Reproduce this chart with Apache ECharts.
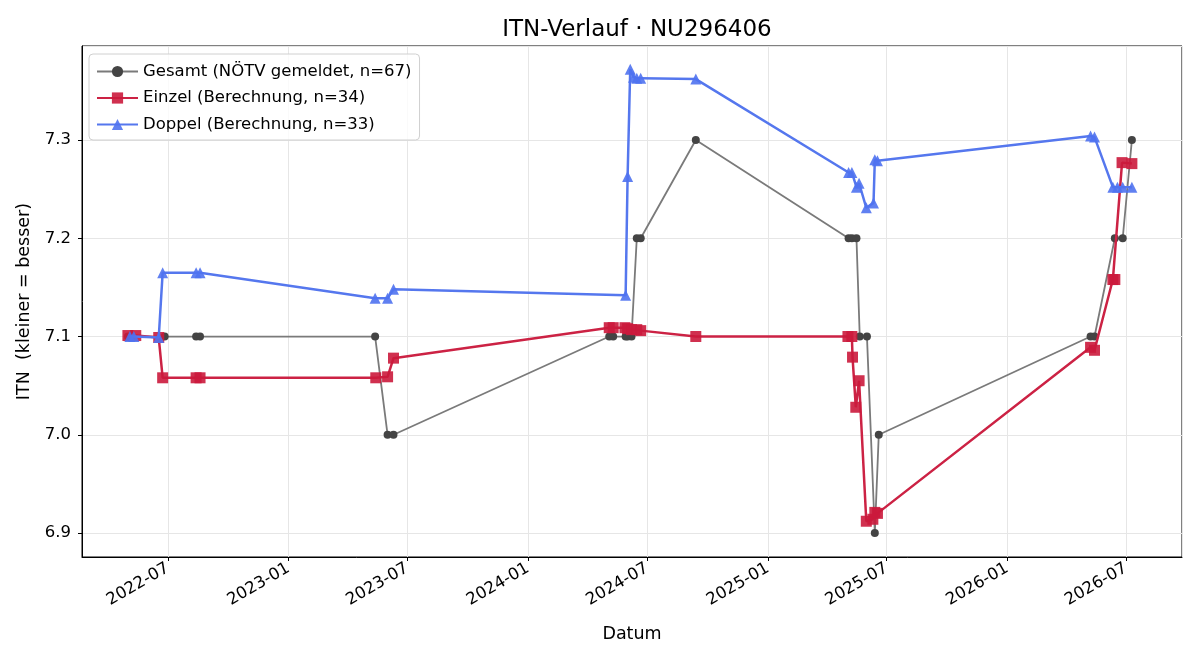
<!DOCTYPE html>
<html>
<head>
<meta charset="utf-8">
<script src="https://cdn.jsdelivr.net/npm/echarts@6/dist/echarts.min.js"></script>
<style>
  html, body { margin: 0; padding: 0; background: #fff; }
  #chart { width: 1200px; height: 660px; }
</style>
</head>
<body>
<div id="chart"></div>
<script>
var gesamtDates = ['2022-05-01', '2022-05-06', '2022-06-26', '2022-08-13', '2022-08-19', '2023-05-13', '2023-06-01', '2023-06-10',
  '2024-05-04', '2024-05-10', '2024-05-29', '2024-06-01', '2024-06-07', '2024-06-15', '2024-06-21', '2024-09-13',
  '2025-05-04', '2025-05-09', '2025-05-16', '2025-05-21', '2025-06-01', '2025-06-13', '2025-06-19',
  '2026-05-08', '2026-05-14', '2026-06-14', '2026-06-26', '2026-07-10'];
var gesamtValues = [7.1, 7.1, 7.1, 7.1, 7.1, 7.1, 7.0, 7.0,
  7.1, 7.1, 7.1, 7.1, 7.1, 7.2, 7.2, 7.3,
  7.2, 7.2, 7.2, 7.1, 7.1, 6.9, 7.0,
  7.1, 7.1, 7.2, 7.2, 7.3];

var einzelDates = ['2022-05-01', '2022-05-13', '2022-06-17', '2022-06-23', '2022-08-13', '2022-08-19', '2023-05-14', '2023-06-01', '2023-06-10',
  '2024-05-04', '2024-05-10', '2024-05-28', '2024-06-01', '2024-06-07', '2024-06-15', '2024-06-21', '2024-09-13',
  '2025-05-03', '2025-05-09', '2025-05-10', '2025-05-15', '2025-05-20', '2025-05-31', '2025-06-10', '2025-06-13', '2025-06-17',
  '2026-05-08', '2026-05-14', '2026-06-11', '2026-06-14', '2026-06-25', '2026-07-10'];
var einzelValues = [7.101, 7.101, 7.099, 7.058, 7.058, 7.058, 7.058, 7.059, 7.078,
  7.109, 7.109, 7.109, 7.108, 7.107, 7.107, 7.106, 7.100,
  7.100, 7.100, 7.079, 7.028, 7.055, 6.912, 6.914, 6.921, 6.920,
  7.089, 7.086, 7.158, 7.158, 7.277, 7.276];

var doppelDates = ['2022-05-04', '2022-05-10', '2022-06-17', '2022-06-23', '2022-08-13', '2022-08-19', '2023-05-13', '2023-06-01', '2023-06-10',
  '2024-05-29', '2024-06-01', '2024-06-05', '2024-06-10', '2024-06-15', '2024-06-21', '2024-09-13',
  '2025-05-04', '2025-05-09', '2025-05-16', '2025-05-20', '2025-05-31', '2025-06-11', '2025-06-13', '2025-06-17',
  '2026-05-08', '2026-05-14', '2026-06-11', '2026-06-18', '2026-06-26', '2026-07-10'];
var doppelValues = [7.100, 7.100, 7.099, 7.165, 7.165, 7.165, 7.139, 7.139, 7.148,
  7.142, 7.263, 7.372, 7.364, 7.363, 7.363, 7.362,
  7.267, 7.267, 7.252, 7.256, 7.231, 7.236, 7.280, 7.279,
  7.304, 7.303, 7.252, 7.252, 7.252, 7.252];

var seriesNames = ['Gesamt (NÖTV gemeldet, n=67)', 'Einzel (Berechnung, n=34)', 'Doppel (Berechnung, n=33)'];

var pairs = (dates, values) => dates.map((d, i) => [d, values[i]]);
var font = 'DejaVu Sans';

var chart = echarts.init(document.getElementById('chart'));

var option = {
  animation: false,
  backgroundColor: '#fff',
  textStyle: { fontFamily: font },
  title: {
    text: 'ITN-Verlauf · NU296406',
    left: 632,
    top: 14,
    textAlign: 'center',
    textStyle: { fontFamily: font, fontSize: 23, fontWeight: 'normal', color: '#000' }
  },
  legend: {
    orient: 'vertical',
    left: 89,
    top: 54,
    padding: [9, 8, 7, 7],
    itemWidth: 41,
    itemHeight: 14,
    itemGap: 9.5,
    backgroundColor: 'rgba(255,255,255,0.8)',
    borderColor: '#d0d0d0',
    borderWidth: 1,
    borderRadius: 4,
    textStyle: { fontFamily: font, fontSize: 16.5, color: '#000' },
    data: seriesNames
  },
  grid: {
    left: 82, right: 18, top: 46, bottom: 103,
    show: true, borderColor: '#000', borderWidth: 1
  },
  xAxis: {
    type: 'time',
    min: '2022-02-20',
    max: '2026-09-24 10:00',
    minInterval: 181 * 86400000,
    maxInterval: 184 * 86400000,
    name: 'Datum',
    nameLocation: 'middle',
    nameGap: 68,
    nameTextStyle: { fontFamily: font, fontSize: 17.5, color: '#000' },
    axisLine: { lineStyle: { color: '#000' } },
    axisTick: { show: true, length: 4, lineStyle: { color: '#000' } },
    splitLine: { show: true, lineStyle: { color: '#e6e6e6' } },
    axisLabel: {
      rotate: 30,
      margin: 10,
      fontFamily: font,
      fontSize: 16.5,
      color: '#000',
      showMinLabel: false,
      showMaxLabel: false,
      formatter: function (v) {
        var d = new Date(v);
        if (d.getDate() !== 1 || (d.getMonth() !== 0 && d.getMonth() !== 6)) return '';
        return d.getFullYear() + '-' + (d.getMonth() === 0 ? '01' : '07');
      }
    }
  },
  yAxis: {
    type: 'value',
    min: 6.8756,
    max: 7.3957,
    name: 'ITN  (kleiner = besser)',
    nameLocation: 'middle',
    nameGap: 47,
    nameRotate: 90,
    nameTextStyle: { fontFamily: font, fontSize: 17.5, color: '#000' },
    axisLine: { show: true, lineStyle: { color: '#000' } },
    axisTick: { show: true, length: 4, lineStyle: { color: '#000' } },
    splitLine: { show: true, lineStyle: { color: '#e6e6e6' } },
    axisLabel: {
      fontFamily: font,
      fontSize: 16.5,
      color: '#000',
      margin: 11,
      showMinLabel: false,
      showMaxLabel: false,
      formatter: function (v) {
        return Math.abs(v * 10 - Math.round(v * 10)) < 1e-6 ? v.toFixed(1) : '';
      }
    }
  },
  series: [
    {
      name: seriesNames[0],
      type: 'line',
      data: pairs(gesamtDates, gesamtValues),
      symbol: 'circle',
      symbolSize: 8,
      lineStyle: { color: '#7a7a7a', width: 1.8 },
      itemStyle: { color: '#444444' },
      z: 2
    },
    {
      name: seriesNames[1],
      type: 'line',
      data: pairs(einzelDates, einzelValues),
      symbol: 'rect',
      symbolSize: 11,
      lineStyle: { color: '#cc2244', width: 2.5 },
      itemStyle: { color: '#cb1a3c', opacity: 0.9 },
      z: 3
    },
    {
      name: seriesNames[2],
      type: 'line',
      data: pairs(doppelDates, doppelValues),
      symbol: 'triangle',
      symbolSize: 11,
      lineStyle: { color: '#5577ee', width: 2.5 },
      itemStyle: { color: '#4f72f0', opacity: 0.9 },
      z: 4
    }
  ]
};

chart.setOption(option);
</script>
</body>
</html>
